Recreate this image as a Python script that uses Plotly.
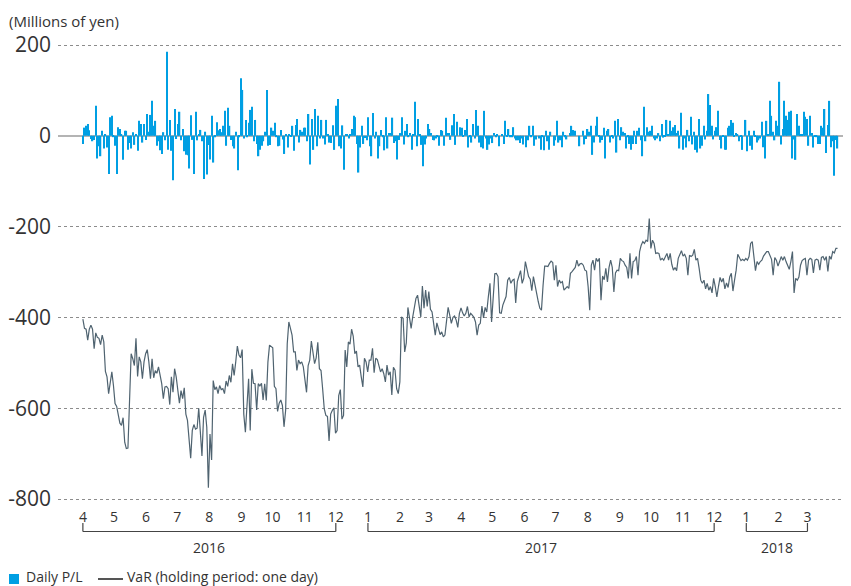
import pandas as pd
import plotly.graph_objects as go

# ---------------- data ----------------
daily_pl = [
    -18, 18, 22, 26, 12, -7, -12, -9, 66, -50, -23, -45, 11, -28, 4, -26, -84, 41, 44, -3,
    -22, -84, 19, 15, 4, -53, 11, 11, -31, -16, -28, 8, -20, 4, -33, 33, 26, -15, 26, -9,
    48, 9, 46, 77, 22, 33, -22, -12, -32, -40, 8, -10, 185, -31, 35, -33, -98, 59, -7, 26,
    53, -10, 15, -34, -42, -43, -72, 45, -9, -84, 53, -10, 2, 13, -12, -95, 9, -85, -20, -52,
    44, -59, -3, 30, 12, 15, 8, 22, 55, -22, 62, 22, -9, -23, -28, 9, -76, -3, 127, 101,
    -6, 35, -3, 29, 57, 64, -12, 35, -18, -45, -31, -22, -12, 9, 101, -22, -20, 18, 11, 29,
    -3, -23, -22, 13, -8, -40, 4, -26, 4, -1, 22, -33, 24, 37, -15, 13, 9, 18, 18, -12,
    48, -63, 37, -31, 59, -23, 44, -6, 35, -6,
    -19, 35, 4, -15, -16, 23, -31, 66, 81, -23, -28, 23, -75, 4, 4, -6, 4, 15, 44, 41,
    -18, -81, -26, 22, -18, -5, -10, 41, -23, -45, 50, -6, 9, -50, -23, 13, -3, -32, 41, -28,
    6, 6, 40, -16, -12, -52, -9, 6, 41, -19, 11, 26, -3, 6, -31, 4, 75, -23, 37, 4,
    -20, -67, -19, -6, 26, 15, 6, -9, -10, -6, -3, -22, 13, 11, -22, 40, 6, 6, -9, 23,
    48, -20, 31, 0, 19, 18, -1, 13, 37, -26, -3, -15, 26, -6, 57, 22, -15, -25, -28, 55,
    -6, -31, -19, -6, -16, 6, -3, 4, -23, 0, 4, -18, 33, -1, 15, -3, -3, 19, -6, -10,
    -10, -16, -6, -19, 0, -25, -10, 22, -3, 22, -22, -8, 0, -6, -31, -3, -32, 11, -12, -31,
    9, 0, -22, -10, 33, -15, -10, -25, 9, -3, -8, 0, 6, 22, 13, 11, 0, 0, -23, 0,
    11, -19, -7, 15, 9, 22, -42, -15, 22, 42, -1, -15, -9, 18, -50, 11, 15, -15, -1, -6,
    33, -37, 37, -10, 19, 9, 6, -28, -3, -18, -31, -18, 11, -18, 11, 18, -10, -45, 64, -12,
    19, 9, 11, 22, -6, -10, -6, 6, -12, 26, -4, -1, 35, 4, 33, 11, 19, 24, 6, 11,
    -28, 51, -31, -6, -26, 13, -12, 42, -19, 9, -31, -37, 37, -28, -22, 22, -8, 11, 92, 68,
    22, -8, 11, 19, 55, -9, -28, -1, -31, -31, 18, 22, 35, 29, -1, 6, 4, -12, -1, -31,
    0, 35, -34, 11, -22, -31, 11, -1, -15, -10, -6, 31, -25, -50, 33, 3, 77, 44, 9, -10,
    33, 22, 119, -19, 15, 77, 44, 35, 53, 55, -50, -8, -53, 48, 22, 4, 2, 53, 42, 37,
    -22, 44, 6, -26, -1, -3, -18, -18, 22, 18, 59, -38, 24, 77, -25, -12, -88, -9, -28,
]

var_1d = [
    -404, -424, -426, -450, -426, -417, -426, -469, -434, -444, -446, -460, -439, -454, -519, -531,
    -568, -539, -520, -550, -590, -596, -620, -633, -638, -621, -675, -689, -688, -583, -480, -491,
    -506, -446, -530, -487, -498, -535, -498, -480, -471, -498, -535, -491, -533, -517, -523, -509,
    -531, -546, -579, -553, -552, -557, -592, -531, -565, -513, -531, -567, -589, -561, -579, -555,
    -613, -627, -664, -710, -649, -636, -646, -644, -600, -649, -705, -620, -604, -642, -775, -657,
    -714, -539, -559, -553, -568, -550, -559, -557, -568, -540, -552, -528, -543, -502, -528, -498,
    -463, -483, -489, -471, -613, -653, -587, -535, -649, -514, -545, -546, -604, -546, -551, -545,
    -582, -546, -583, -498, -461, -465, -467, -552, -557, -607, -589, -582, -594, -641, -605, -458,
    -410, -424, -439, -476, -476, -517, -494, -502, -498, -509, -534, -565, -506, -494, -452, -480,
    -502, -489, -455, -513, -517, -557, -601, -616, -618, -672, -613, -605, -599, -655, -649, -572,
    -559, -624, -616, -472, -509, -454, -459, -426, -441, -480, -474,
    -509, -505, -531, -553, -490, -498, -520, -494, -494, -468, -522, -490, -493, -507, -520, -513,
    -524, -542, -505, -527, -520, -571, -510, -516, -557, -568, -542, -399, -402, -476, -456, -378,
    -399, -424, -399, -373, -358, -351, -376, -399, -331, -380, -340, -376, -343, -382, -388, -421,
    -439, -412, -428, -438, -432, -443, -439, -406, -378, -395, -413, -400, -397, -406, -422, -391,
    -379, -390, -397, -391, -376, -399, -391, -395, -400, -410, -439, -417, -413, -375, -401, -378,
    -388, -354, -325, -410, -351, -304, -303, -310, -390, -391, -373, -362, -354, -318, -312, -325,
    -318, -316, -368, -321, -310, -297, -325, -314, -277, -294, -310, -316, -341, -310, -331, -343,
    -365, -380, -384, -329, -287, -287, -288, -281, -276, -279, -318, -285, -332, -318, -324, -321,
    -340, -336, -332, -336, -303, -299, -294, -290, -274, -287, -282, -281, -285, -296, -298, -332,
    -384, -285,
    -274, -296, -270, -277, -270, -362, -309, -317, -292, -322, -290, -274, -290, -344, -302, -296,
    -297, -270, -275, -277, -285, -290, -314, -259, -314, -277, -275, -266, -307, -255, -241, -233,
    -237, -230, -233, -182, -248, -230, -237, -259, -258, -259, -274, -270, -274, -265, -259, -274,
    -259, -283, -296, -290, -297, -270, -259, -253, -265, -261, -270, -307, -263, -266, -263, -250,
    -274, -270, -292, -318, -325, -318, -337, -325, -340, -332, -346, -314, -332, -355, -332, -312,
    -322, -314, -337, -324, -334, -311, -303, -342, -318, -296, -261, -270, -275, -272, -275, -270,
    -274, -266, -237, -233, -274, -297, -277, -283, -277, -274, -265, -259, -255, -255, -265, -272,
    -307, -268, -274, -287, -277, -266, -274, -266, -277, -285, -294, -277, -255, -346, -314, -318,
    -311, -285, -275, -272, -270, -307, -274, -270, -272, -302, -274, -272, -274, -296, -268, -266,
    -274, -266, -299, -265, -272, -255, -258, -248, -248,
]

month_labels = ["4", "5", "6", "7", "8", "9", "10", "11", "12", "1", "2", "3",
                "4", "5", "6", "7", "8", "9", "10", "11", "12", "1", "2", "3"]
years = ["2016", "2017", "2018"]
year_first_month = ["2016-04-01", "2017-01-01", "2018-01-01"]
year_last_month = ["2016-12-01", "2017-12-01", "2018-03-01"]
y_ticks = [200, 0, -200, -400, -600, -800]
y_tick_labels = ["200", "0", "-200", "-400", "-600", "-800"]

period_start, period_end = "2016-04-01", "2018-03-30"

# ---------------- figure ----------------
FONT = "Open Sans, Noto Sans, sans-serif"
TXT = "#333333"
BLUE = "#009fe3"
VARC = "#4f6370"

# page offset of the figure (browser body margin) is 8px; plot area in page pixels:
PX_L, PX_R, PX_T, PX_B = 58, 851, 43, 501


def xp(px):
    return (px - PX_L) / (PX_R - PX_L)


def yp(py):
    return (PX_B - py) / (PX_B - PX_T)


pl_dates = pd.date_range(period_start, period_end, periods=len(daily_pl))
var_dates = pd.date_range(period_start, period_end, periods=len(var_1d))
month_starts = pd.date_range("2016-04-01", "2018-03-01", freq="MS")

fig = go.Figure()
fig.add_trace(go.Bar(x=pl_dates, y=daily_pl, name="Daily P/L",
                     marker=dict(color=BLUE, line=dict(width=0)), showlegend=False))
fig.add_trace(go.Scatter(x=var_dates, y=var_1d, mode="lines", name="VaR (holding period: one day)",
                         line=dict(color=VARC, width=1.2), showlegend=False))

fig.update_layout(
    width=843, height=578,
    margin=dict(l=50, r=0, t=35, b=85, pad=0),
    paper_bgcolor="white", plot_bgcolor="white",
    font=dict(family=FONT, color=TXT, size=14),
    bargap=0.2,
    showlegend=False,
)
fig.update_xaxes(
    type="date", range=["2016-03-08", "2018-04-12"],
    tickvals=month_starts, ticktext=month_labels,
    showgrid=False, zeroline=False, showline=False, ticks="",
    tickfont=dict(size=14, color=TXT), ticklabelstandoff=6, automargin=False,
)
fig.update_yaxes(
    range=[-804.4, 204.4], tickvals=y_ticks, ticktext=y_tick_labels,
    showgrid=True, gridcolor="#8c8c8c", griddash="dot", gridwidth=1,
    zeroline=True, zerolinecolor="#b4b4b4", zerolinewidth=2,
    showline=False, ticks="", tickfont=dict(size=21, color=TXT), ticklabelstandoff=6,
    automargin=False,
)

# year brackets under the month labels
y_bar, y_tick = yp(531.5), yp(523)
for name, a, b in zip(years, year_first_month, year_last_month):
    for (x0, y0, x1, y1) in [(a, y_bar, b, y_bar), (a, y_tick, a, y_bar), (b, y_tick, b, y_bar)]:
        fig.add_shape(type="line", xref="x", yref="paper", x0=x0, x1=x1, y0=y0, y1=y1,
                      line=dict(color="#444444", width=1.2))
    mid = pd.Timestamp(a) + (pd.Timestamp(b) - pd.Timestamp(a)) / 2
    fig.add_annotation(x=mid, y=yp(547.5), xref="x", yref="paper", text=name, showarrow=False,
                       font=dict(size=14, color=TXT), xanchor="center", yanchor="middle")

# unit label
fig.add_annotation(x=xp(7), y=yp(21), xref="paper", yref="paper", xanchor="left", yanchor="middle",
                   text="(Millions of yen)", showarrow=False, font=dict(size=15, color=TXT))

# legend (drawn manually to match the reference)
fig.add_shape(type="rect", xref="paper", yref="paper", x0=xp(9), x1=xp(19), y0=yp(574), y1=yp(584),
              fillcolor=BLUE, line=dict(width=0))
fig.add_annotation(x=xp(25), y=yp(576.5), xref="paper", yref="paper", xanchor="left", yanchor="middle",
                   text="Daily P/L", showarrow=False, font=dict(size=14, color=TXT), borderpad=0)
fig.add_shape(type="line", xref="paper", yref="paper", x0=xp(98), x1=xp(123), y0=yp(579), y1=yp(579),
              line=dict(color="#555555", width=2))
fig.add_annotation(x=xp(126), y=yp(576.5), xref="paper", yref="paper", xanchor="left", yanchor="middle",
                   text="VaR (holding period: one day)", showarrow=False, font=dict(size=14, color=TXT),
                   borderpad=0)

fig.write_html("out.html")
